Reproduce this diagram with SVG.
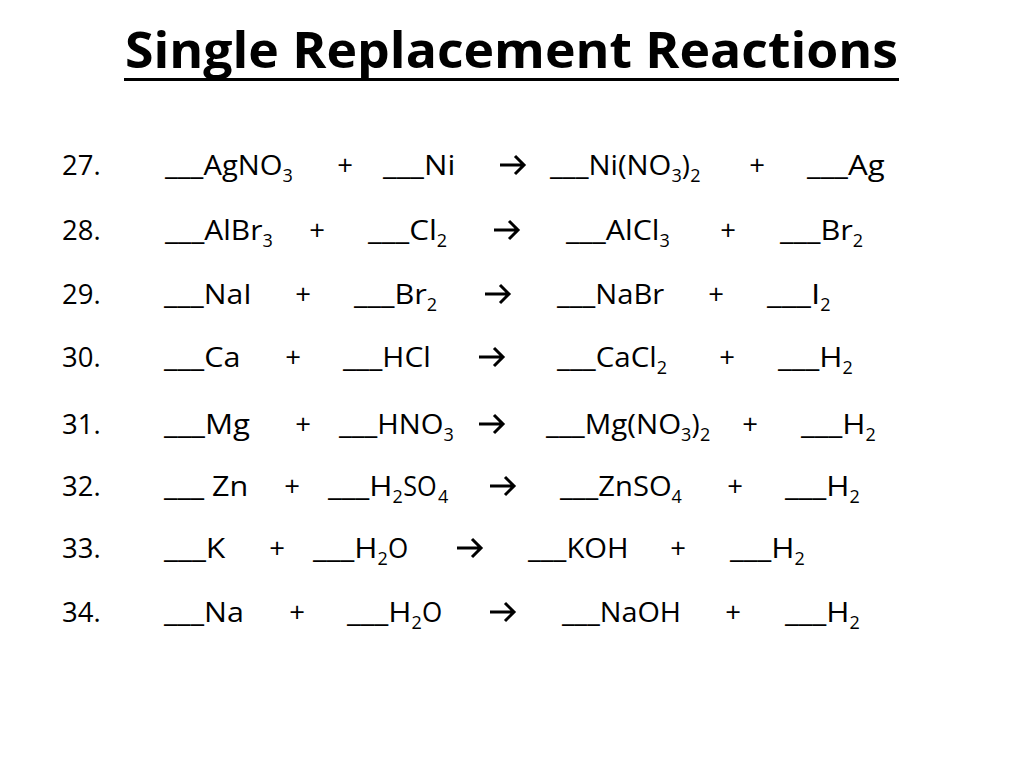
<svg xmlns="http://www.w3.org/2000/svg" width="1024" height="768" viewBox="0 0 1024 768">
<style>
text{font-family:"Open Sans","Noto Sans","Liberation Sans",sans-serif;fill:#000}
.ttl{font-size:50px;font-weight:bold}
.t{font-size:27.5px}
.s{font-size:18px}
.p{font-size:27.5px;text-anchor:middle}
</style>
<defs>
<path id="arr" d="M0 0H24M15 -9L24 0L15 9" fill="none" stroke="#000" stroke-width="3"/>
</defs>
<rect width="1024" height="768" fill="#fff"/>
<g id="title">
<text class="ttl" x="125" y="68" textLength="773" lengthAdjust="spacingAndGlyphs">Single Replacement Reactions</text>
<rect x="124" y="78" width="775" height="3" fill="#000"/>
</g>
<g id="arrows">
<use href="#arr" x="500" y="165"/>
<use href="#arr" x="494" y="230"/>
<use href="#arr" x="485" y="294"/>
<use href="#arr" x="479" y="357"/>
<use href="#arr" x="479" y="424"/>
<use href="#arr" x="490" y="486"/>
<use href="#arr" x="457" y="548"/>
<use href="#arr" x="490" y="612"/>
</g>
<g id="r27">
<text class="t" x="62" y="175" textLength="38.6" lengthAdjust="spacingAndGlyphs">27.</text>
<text class="t" x="165" y="175" textLength="117.5" lengthAdjust="spacingAndGlyphs">___AgNO</text><text class="s" x="282.5" y="182">3</text>
<text class="p" x="345" y="175">+</text>
<text class="t" x="383" y="175" textLength="72.3" lengthAdjust="spacingAndGlyphs">___Ni</text>
<text class="t" x="550" y="175" textLength="121.4" lengthAdjust="spacingAndGlyphs">___Ni(NO</text><text class="s" x="671.4" y="182">3</text><text class="t" x="681.7" y="175">)</text><text class="s" x="690.3" y="182">2</text>
<text class="p" x="757" y="175">+</text>
<text class="t" x="807" y="175" textLength="77.6" lengthAdjust="spacingAndGlyphs">___Ag</text>
</g>
<g id="r28">
<text class="t" x="62" y="240" textLength="38.6" lengthAdjust="spacingAndGlyphs">28.</text>
<text class="t" x="165" y="240" textLength="97.4" lengthAdjust="spacingAndGlyphs">___AlBr</text><text class="s" x="262.4" y="247">3</text>
<text class="p" x="317" y="240">+</text>
<text class="t" x="368" y="240" textLength="68.8" lengthAdjust="spacingAndGlyphs">___Cl</text><text class="s" x="436.8" y="247">2</text>
<text class="t" x="566" y="240" textLength="93.5" lengthAdjust="spacingAndGlyphs">___AlCl</text><text class="s" x="659.5" y="247">3</text>
<text class="p" x="728" y="240">+</text>
<text class="t" x="780" y="240" textLength="72.8" lengthAdjust="spacingAndGlyphs">___Br</text><text class="s" x="852.8" y="247">2</text>
</g>
<g id="r29">
<text class="t" x="62" y="304" textLength="38.6" lengthAdjust="spacingAndGlyphs">29.</text>
<text class="t" x="164" y="304" textLength="87.6" lengthAdjust="spacingAndGlyphs">___NaI</text>
<text class="p" x="303" y="304">+</text>
<text class="t" x="354" y="304" textLength="72.8" lengthAdjust="spacingAndGlyphs">___Br</text><text class="s" x="426.8" y="311">2</text>
<text class="t" x="557" y="304" textLength="107.1" lengthAdjust="spacingAndGlyphs">___NaBr</text>
<text class="p" x="716" y="304">+</text>
<text class="t" x="767" y="304" textLength="53.3" lengthAdjust="spacingAndGlyphs">___I</text><text class="s" x="820.3" y="311">2</text>
</g>
<g id="r30">
<text class="t" x="62" y="367" textLength="38.6" lengthAdjust="spacingAndGlyphs">30.</text>
<text class="t" x="164" y="367" textLength="76.4" lengthAdjust="spacingAndGlyphs">___Ca</text>
<text class="p" x="293" y="367">+</text>
<text class="t" x="343" y="367" textLength="87.8" lengthAdjust="spacingAndGlyphs">___HCl</text>
<text class="t" x="557" y="367" textLength="99.7" lengthAdjust="spacingAndGlyphs">___CaCl</text><text class="s" x="656.7" y="374">2</text>
<text class="p" x="727" y="367">+</text>
<text class="t" x="778" y="367" textLength="64.6" lengthAdjust="spacingAndGlyphs">___H</text><text class="s" x="842.6" y="374">2</text>
</g>
<g id="r31">
<text class="t" x="62" y="434" textLength="38.6" lengthAdjust="spacingAndGlyphs">31.</text>
<text class="t" x="164" y="434" textLength="86" lengthAdjust="spacingAndGlyphs">___Mg</text>
<text class="p" x="303" y="434">+</text>
<text class="t" x="339" y="434" textLength="104.5" lengthAdjust="spacingAndGlyphs">___HNO</text><text class="s" x="443.5" y="441">3</text>
<text class="t" x="546" y="434" textLength="135.1" lengthAdjust="spacingAndGlyphs">___Mg(NO</text><text class="s" x="681.1" y="441">3</text><text class="t" x="691.4" y="434">)</text><text class="s" x="700" y="441">2</text>
<text class="p" x="750" y="434">+</text>
<text class="t" x="801" y="434" textLength="64.6" lengthAdjust="spacingAndGlyphs">___H</text><text class="s" x="865.6" y="441">2</text>
</g>
<g id="r32">
<text class="t" x="62" y="496" textLength="38.6" lengthAdjust="spacingAndGlyphs">32.</text>
<text class="t" x="164" y="496" textLength="84.3" lengthAdjust="spacingAndGlyphs">___ Zn</text>
<text class="p" x="292" y="496">+</text>
<text class="t" x="328" y="496" textLength="64.6" lengthAdjust="spacingAndGlyphs">___H</text><text class="s" x="392.6" y="503">2</text><text class="t" x="403.2" y="496" textLength="33.5" lengthAdjust="spacingAndGlyphs">SO</text><text class="s" x="438" y="503">4</text>
<text class="t" x="560" y="496" textLength="111.6" lengthAdjust="spacingAndGlyphs">___ZnSO</text><text class="s" x="671.6" y="503">4</text>
<text class="p" x="735" y="496">+</text>
<text class="t" x="785" y="496" textLength="64.6" lengthAdjust="spacingAndGlyphs">___H</text><text class="s" x="849.6" y="503">2</text>
</g>
<g id="r33">
<text class="t" x="62" y="558" textLength="38.6" lengthAdjust="spacingAndGlyphs">33.</text>
<text class="t" x="164" y="558" textLength="61.4" lengthAdjust="spacingAndGlyphs">___K</text>
<text class="p" x="277" y="558">+</text>
<text class="t" x="313" y="558" textLength="64.6" lengthAdjust="spacingAndGlyphs">___H</text><text class="s" x="377.6" y="565">2</text><text class="t" x="387.9" y="558" textLength="20.2" lengthAdjust="spacingAndGlyphs">O</text>
<text class="t" x="528" y="558" textLength="100.6" lengthAdjust="spacingAndGlyphs">___KOH</text>
<text class="p" x="678" y="558">+</text>
<text class="t" x="730" y="558" textLength="64.6" lengthAdjust="spacingAndGlyphs">___H</text><text class="s" x="794.6" y="565">2</text>
</g>
<g id="r34">
<text class="t" x="62" y="622" textLength="38.6" lengthAdjust="spacingAndGlyphs">34.</text>
<text class="t" x="164" y="622" textLength="79.9" lengthAdjust="spacingAndGlyphs">___Na</text>
<text class="p" x="297" y="622">+</text>
<text class="t" x="347" y="622" textLength="64.6" lengthAdjust="spacingAndGlyphs">___H</text><text class="s" x="411.6" y="629">2</text><text class="t" x="421.9" y="622" textLength="20.2" lengthAdjust="spacingAndGlyphs">O</text>
<text class="t" x="562" y="622" textLength="119.1" lengthAdjust="spacingAndGlyphs">___NaOH</text>
<text class="p" x="733" y="622">+</text>
<text class="t" x="785" y="622" textLength="64.6" lengthAdjust="spacingAndGlyphs">___H</text><text class="s" x="849.6" y="629">2</text>
</g>
</svg>
